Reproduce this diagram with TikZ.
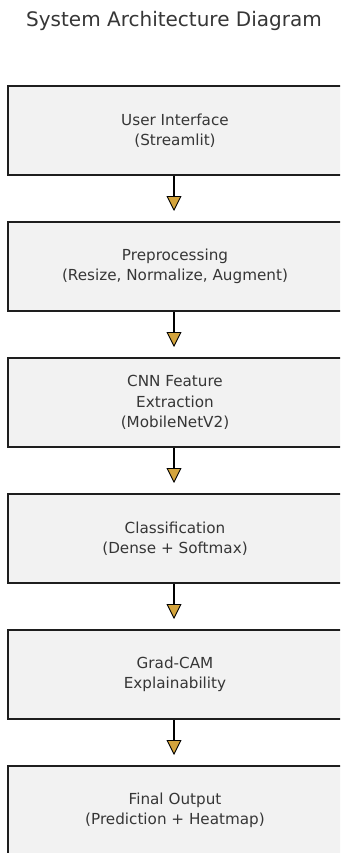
\documentclass[tikz,border=0pt]{standalone}
\usepackage{fontspec}
\setmainfont{DejaVu Sans}
\usetikzlibrary{arrows.meta}
\definecolor{boxfill}{HTML}{F2F2F2}
\definecolor{boxline}{HTML}{1E1E1E}
\definecolor{txt}{HTML}{363636}
\definecolor{tipfill}{HTML}{D4A43C}
\tikzset{
  stagebox/.style={draw=boxline, line width=2pt, fill=boxfill, minimum width=334pt, minimum height=89pt, inner sep=0pt, align=center, text=txt, font=\fontsize{15.2}{20.5}\selectfont},
  flowarrow/.style={draw=black, line width=1.8pt, shorten >=10pt, -{Triangle[width=15pt,length=15pt,fill=tipfill,line width=0.9pt]}},
}
\begin{document}
\begin{tikzpicture}[x=1pt,y=-1pt]
\useasboundingbox (0,0) rectangle (340,853);
\clip (0,0) rectangle (340,853);
\fill[white] (0,0) rectangle (340,853);
\node[text=txt, font=\fontsize{20}{24}\selectfont, anchor=base] (title) at (174,27) {System Architecture Diagram};
\node[stagebox] (b1) at (175,130.5) {User Interface\\(Streamlit)};
\node[stagebox] (b2) at (175,266.5) {Preprocessing\\(Resize, Normalize, Augment)};
\node[stagebox] (b3) at (175,402.5) {CNN Feature\\Extraction\\(MobileNetV2)};
\node[stagebox] (b4) at (175,538.5) {Classification\\(Dense + Softmax)};
\node[stagebox] (b5) at (175,674.5) {Grad-CAM\\Explainability};
\node[stagebox] (b6) at (175,810.5) {Final Output\\(Prediction + Heatmap)};
\draw[flowarrow] ([xshift=-1pt]b1.south) -- ([xshift=-1pt]b2.north);
\draw[flowarrow] ([xshift=-1pt]b2.south) -- ([xshift=-1pt]b3.north);
\draw[flowarrow] ([xshift=-1pt]b3.south) -- ([xshift=-1pt]b4.north);
\draw[flowarrow] ([xshift=-1pt]b4.south) -- ([xshift=-1pt]b5.north);
\draw[flowarrow] ([xshift=-1pt]b5.south) -- ([xshift=-1pt]b6.north);
\end{tikzpicture}
\end{document}
